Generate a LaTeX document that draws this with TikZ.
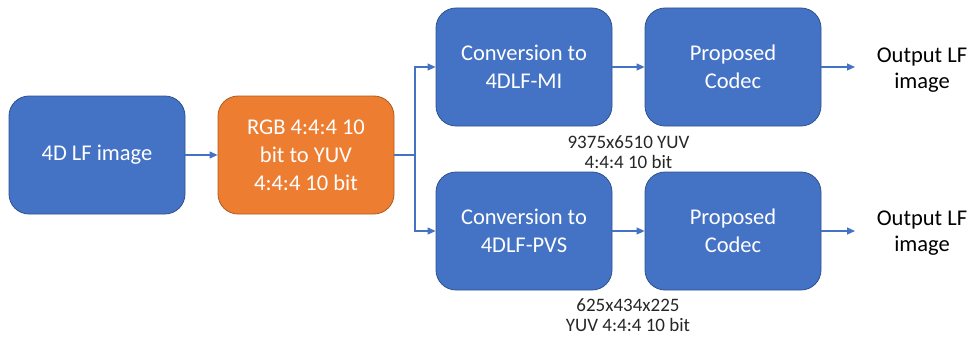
\documentclass[tikz,border=0pt]{standalone}
\usepackage{fontspec}
\setmainfont{Carlito}
\usetikzlibrary{arrows.meta}
\definecolor{boxblue}{HTML}{4472C4}
\definecolor{boxblueline}{HTML}{2F528F}
\definecolor{boxorange}{HTML}{ED7D31}
\definecolor{boxorangeline}{HTML}{AE5A21}
\tikzset{
  blockbox/.style={draw=boxblueline, fill=boxblue, line width=0.8pt, rounded corners=20pt,
    minimum width=176pt, minimum height=118pt, text=white, align=center,
    font=\fontsize{22.5pt}{28pt}\selectfont, inner sep=0pt},
  orangebox/.style={blockbox, draw=boxorangeline, fill=boxorange},
  flow/.style={draw=boxblue, line width=1.1pt, -{Triangle[length=8pt,width=7pt]}},
  flowline/.style={draw=boxblue, line width=1.1pt},
  outtext/.style={align=center, font=\fontsize{22.5pt}{26pt}\selectfont, text=black, inner sep=0pt},
  smalllabel/.style={align=center, font=\fontsize{19pt}{20.5pt}\selectfont, text=black!85, inner sep=0pt}
}
\begin{document}
\begin{tikzpicture}[x=1pt,y=-1pt]
\useasboundingbox (0,0) rectangle (972,337);
\node[blockbox] (a) at (97,155) {4D LF image};
\node[orangebox] (b) at (306,155) {RGB 4:4:4 10\\bit to YUV\\4:4:4 10 bit};
\node[blockbox] (c1) at (524,67) {Conversion to\\4DLF-MI};
\node[blockbox] (d1) at (733,67) {Proposed\\Codec};
\node[blockbox] (c2) at (524,231) {Conversion to\\4DLF-PVS};
\node[blockbox] (d2) at (733,231) {Proposed\\Codec};
\node[outtext] (o1) at (922,70) {Output LF\\image};
\node[outtext] (o2) at (922,233) {Output LF\\image};
\node[smalllabel] (l1) at (628.5,152) {9375x6510 YUV\\4:4:4 10 bit};
\node[smalllabel] (l2) at (628,315) {625x434x225\\YUV 4:4:4 10 bit};
\coordinate (j) at (415,155);
\coordinate (e1) at (855,67);
\coordinate (e2) at (855,231);
\draw[flow] (a) -- (b);
\draw[flowline] (b.east) -- (j);
\draw[flow] (j) |- (c1.west);
\draw[flow] (j) |- (c2.west);
\draw[flow] (c1) -- (d1);
\draw[flow] (c2) -- (d2);
\draw[flow] (d1.east) -- (e1);
\draw[flow] (d2.east) -- (e2);
\end{tikzpicture}
\end{document}
